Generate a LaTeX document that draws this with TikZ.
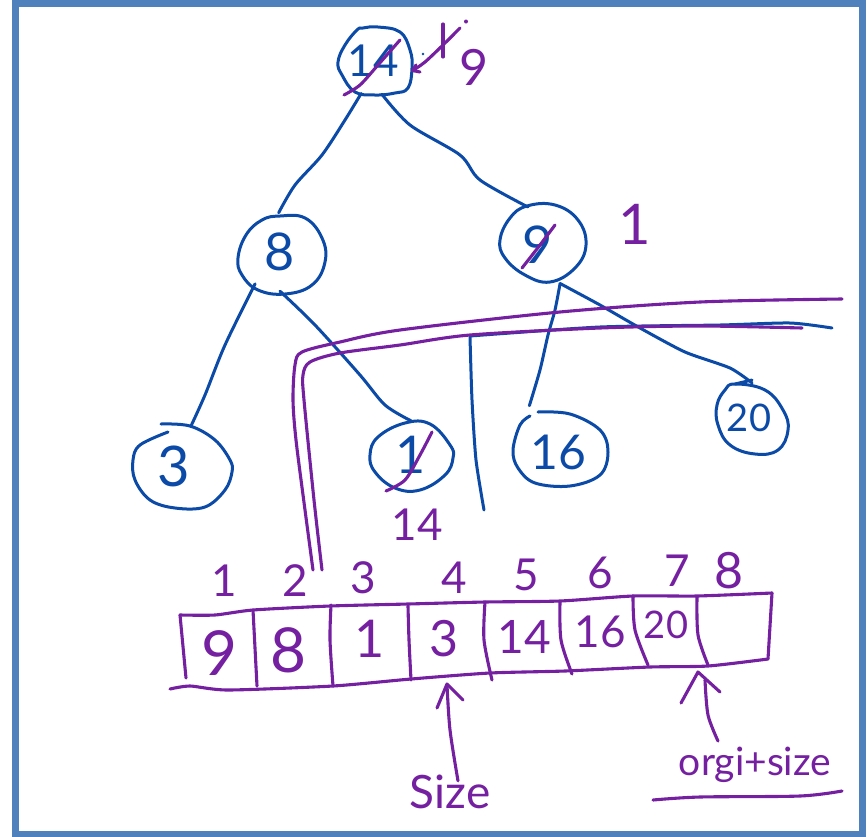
\documentclass[tikz,border=0pt]{standalone}
\usepackage{fontspec}
\setmainfont{Lato}
\usetikzlibrary{shapes.geometric}
\definecolor{penblue}{HTML}{0B4AA6}
\definecolor{penpurple}{HTML}{7420A0}
\definecolor{framecol}{HTML}{4F81BD}
\newcommand{\fsz}[1]{\fontsize{#1}{#1}\selectfont}
\tikzset{
 bl/.style={draw=penblue,line width=3pt,line cap=round,line join=round},
 pu/.style={draw=penpurple,line width=3.1pt,line cap=round,line join=round},
 cnode/.style={ellipse,draw=none,inner sep=0pt,text=penblue},
 ptext/.style={inner sep=0pt,text=penpurple},
}
\begin{document}
\begin{tikzpicture}[x=1pt,y=-1pt]
\useasboundingbox (0,0) rectangle (867,836);
\fill[white] (0,0) rectangle (867,836);
\draw[framecol,line width=7pt] (15.5,3) rectangle (862.5,834);
% tree nodes
\node[cnode,minimum width=74pt,minimum height=68pt,font=\fsz{44}] (nR) at (373,61) {14};
\node[cnode,minimum width=85pt,minimum height=78pt,font=\fsz{52}] (n8) at (280,252) {8};
\node[cnode,minimum width=85pt,minimum height=78pt,font=\fsz{52}] (n9) at (538,245) {9};
\node[cnode,minimum width=98pt,minimum height=84pt,font=\fsz{56}] (n3) at (174,466) {3};
\node[cnode,minimum width=83pt,minimum height=68pt,font=\fsz{52}] (n1) at (411,455) {1};
\node[cnode,minimum width=95pt,minimum height=73pt,font=\fsz{48}] (n16) at (558,452) {16};
\node[cnode,minimum width=71pt,minimum height=70pt,font=\fsz{38}] (n20) at (749,418) {20};
% outlines
\draw[bl] plot[smooth cycle,tension=.7] coordinates {(363,28)(378,27)(400,32)(410,50)(412,68)(408,88)(395,93)(375,95)(355,92)(342,75)(338,62)(345,45)(357,30)};
\draw[bl] plot[smooth cycle,tension=.7] coordinates {(280,216)(305,218)(322,238)(325,262)(312,285)(285,294)(258,290)(242,275)(238,258)(246,235)(262,220)};
\draw[bl] plot[smooth cycle,tension=.7] coordinates {(527,206)(555,205)(578,220)(586,245)(575,268)(550,282)(525,275)(505,258)(500,240)(510,218)};
\draw[bl] plot[smooth,tension=.6] coordinates {(161,424)(190,426)(215,440)(230,460)(232,472)(225,490)(205,507)(175,508)(150,500)(135,480)(133,460)(140,445)(168,432)};
\draw[bl] plot[smooth cycle,tension=.7] coordinates {(405,423)(430,424)(450,445)(453,458)(445,475)(420,490)(395,488)(375,472)(370,455)(378,437)};
\draw[bl] plot[smooth,tension=.6] coordinates {(538,412)(570,414)(600,430)(608,452)(600,475)(570,486)(535,483)(518,468)(513,450)(520,425)(530,416)};
\draw[bl] plot[smooth cycle,tension=.7] coordinates {(735,384)(765,390)(783,410)(788,430)(778,450)(755,454)(730,445)(718,425)(717,405)(725,390)};
% connectors
\draw[bl] plot[smooth,tension=.5] coordinates {(nR.250)(345,120)(322,155)(295,185)(n8.92)};
\draw[bl] plot[smooth,tension=.5] coordinates {(nR.285)(410,125)(460,155)(480,180)(n9.105)};
\draw[bl] plot[smooth,tension=.5] coordinates {(n8.232)(225,345)(205,395)(n3.67)};
\draw[bl] plot[smooth,tension=.5] coordinates {(n8.270)(315,325)(360,375)(385,405)(n1.90)};
\draw[bl] plot[smooth,tension=.4] coordinates {([xshift=4pt,yshift=-3pt]n9.297)(555,310)(548,335)(540,370)([xshift=-6pt,yshift=14pt]n16.125)};
\draw[bl] plot[smooth,tension=.4] coordinates {([xshift=4pt,yshift=-3pt]n9.297)(600,305)(640,328)(685,352)(730,368)(n20.85)};
\draw[bl] (735,384) -- (752,380);
% blue line under purple
\draw[bl] plot[smooth,tension=.4] coordinates {(484,510)(476,460)(472,400)(470,337)};
\draw[bl] plot[smooth,tension=.4] coordinates {(470,336)(600,327)(720,325)(790,323)(832,328)};
% strikes
\draw[pu] plot[smooth] coordinates {(344,95)(360,85)(378,65)(400,40)};
\draw[pu] plot[smooth] coordinates {(522,268)(540,245)(555,225)};
\draw[pu] plot[smooth] coordinates {(386,491)(405,480)(420,455)(432,432)};
% replacement arrow at root
\draw[pu] plot[smooth] coordinates {(460,28)(443,45)(425,62)([xshift=4pt]nR.-15)};
\draw[pu] (420,72) -- ([xshift=4pt]nR.-15) -- (416,65);
\draw[pu] (443,24) -- (443,57);
\fill[penpurple] (466,21.5) circle (2pt);
\fill[penblue] (423,54) circle (1.3pt);
\node[ptext,font=\fsz{50}] (t9) at (474,67) {9};
\node[ptext,font=\fsz{56}] (t1) at (635,224) {1};
\node[ptext,font=\fsz{44}] (t14) at (417,525) {14};
% long purple lines
\draw[pu] plot[smooth,tension=.5] coordinates {(313,570)(305,510)(296,440)(293,400)(295,365)(302,352)(340,342)(400,330)(560,312)(700,302)(842,299)};
\draw[pu] plot[smooth,tension=.5] coordinates {(322,570)(314,500)(304,400)(303,375)(310,362)(340,353)(400,345)(470,335)(600,328)(700,326)(802,328)};
% array
\draw[pu] plot[smooth,tension=.4] coordinates {(180,615)(215,615)(253,610)(330,606)(408,604)(485,602)(560,601)(633,596)(697,596)(772,593)};
\draw[pu] plot[smooth,tension=.4] coordinates {(170,689)(190,686)(228,690)(333,686)(411,679)(490,673)(565,671)(650,667)(708,666)(768,659)};
\draw[pu] (772,593) -- (768,659);
\draw[pu] (180,615) -- (186,678);
\draw[pu] (253,610) -- (257,686);
\draw[pu] plot[smooth] coordinates {(331,605)(330,640)(333,686)};
\draw[pu] plot[smooth] coordinates {(408,606)(409,640)(411,680)};
\draw[pu] plot[smooth] coordinates {(485,602)(484,640)(492,680)};
\draw[pu] plot[smooth] coordinates {(560,602)(561,640)(572,674)};
\draw[pu] plot[smooth] coordinates {(633,596)(635,630)(648,665)};
\draw[pu] plot[smooth] coordinates {(697,597)(698,635)(708,665)};
% indices
\foreach \n/\x/\y in {1/224/581,2/295/581,3/363/578,4/454/578,5/526/575,6/600/573,7/677/571}
  \node[ptext,font=\fsz{44}] (i\n) at (\x,\y) {\n};
\node[ptext,font=\fsz{50}] (i8) at (729,571) {8};
% cells
\node[ptext,font=\fsz{62}] (c1) at (219,653) {9};
\node[ptext,font=\fsz{62}] (c2) at (288,650) {8};
\node[ptext,font=\fsz{52}] (c3) at (370,639) {1};
\node[ptext,font=\fsz{50}] (c4) at (444,639) {3};
\node[ptext,font=\fsz{46}] (c5) at (524,637) {14};
\node[ptext,font=\fsz{44}] (c6) at (600,632) {16};
\node[ptext,font=\fsz{38}] (c7) at (666,625) {20};
% pointers
\node[ptext,font=\fsz{46}] (lsize) at (450,792) {Size};
\node[ptext,font=\fsz{39}] (lorgi) at (755,765) {orgi+size};
\draw[pu] plot[smooth] coordinates {([xshift=8pt,yshift=-6pt]lsize.north)(450,730)(447,685)};
\draw[pu] (437,708) -- (447,684) -- (463,700);
\draw[pu] plot[smooth] coordinates {([xshift=-37pt,yshift=6pt]lorgi.north)(708,715)(705,680)};
\draw[pu] (681,703) -- (698,672) -- (720,692);
\draw[pu] plot[smooth] coordinates {(653,800)(700,797)(800,796)(842,791)};
\end{tikzpicture}
\end{document}
